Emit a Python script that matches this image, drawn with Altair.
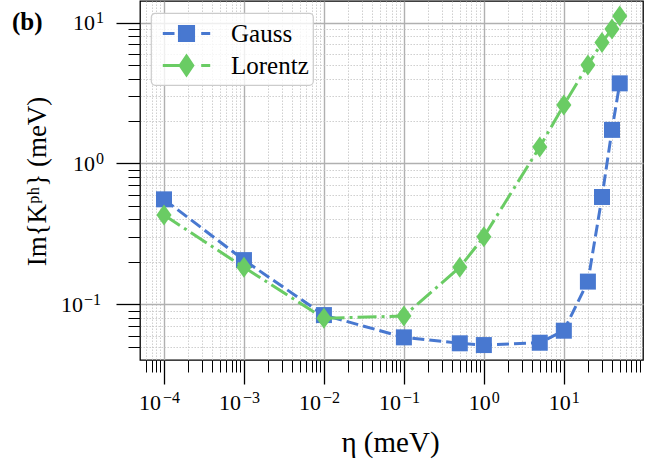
import altair as alt
import pandas as pd

# Broadening width eta (meV) and the resulting Im{K^ph} (meV) per broadening kind
eta = [1e-4, 1e-3, 1e-2, 1e-1, 0.5, 1, 5, 10, 20, 30, 40, 50]
gauss = [0.556, 0.206, 0.0839, 0.0583, 0.0529, 0.0514, 0.0534, 0.065, 0.145, 0.578, 1.73, 3.70]
lorentz = [0.430, 0.183, 0.0796, 0.0826, 0.183, 0.302, 1.31, 2.6, 5.0, 7.2, 9.0, 11.1]

series = ["Gauss", "Lorentz"]
colors = ["#4878d0", "#6acc64"]
panel_label = "(b)"

# decade tick labels, written as 10 with a raised exponent
x_major = [1e-4, 1e-3, 1e-2, 1e-1, 1, 10]
x_exponents = ["\u22124", "\u22123", "\u22122", "\u22121", "0", "1"]
y_major = [0.1, 1, 10]
y_exponents = ["\u22121", "0", "1"]

# log-axis tick positions: every 1..9 x 10^k inside the visible range
x_ticks = [m * 10.0 ** k for k in range(-5, 2) for m in range(1, 10) if 5.5e-5 < m * 10.0 ** k < 95]
y_ticks = [m * 10.0 ** k for k in range(-2, 2) for m in range(1, 10) if 0.045 < m * 10.0 ** k < 14]

FONT = "Liberation Serif"
BASE_SIZE = 22
EXP_SIZE = 16

df = pd.DataFrame({
    "eta": eta * 2,
    "value": gauss + lorentz,
    "series": [series[0]] * len(eta) + [series[1]] * len(eta),
})

MAJOR = "abs(log(datum.value)/LN10 - round(log(datum.value)/LN10)) < 1e-6"


def log_axis(title, values, **kw):
    return alt.Axis(
        title=title,
        values=values,
        labels=False,
        grid=True,
        gridColor=alt.condition(MAJOR, alt.value("#b0b0b0"), alt.value("#c4c4c4")),
        gridDash=alt.condition(MAJOR, alt.value([]), alt.value([1.4, 1.6])),
        gridWidth=alt.condition(MAJOR, alt.value(1.4), alt.value(0.9)),
        tickSize=alt.condition(MAJOR, alt.value(24), alt.value(12)),
        tickWidth=alt.condition(MAJOR, alt.value(1.3), alt.value(1.0)),
        tickColor="black",
        domain=False,
        titleFont=FONT,
        titleFontWeight="normal",
        titleColor="black",
        titleBaseline="middle",
        titleAlign="center",
        **kw,
    )


x_scale = alt.Scale(type="log", domain=[10 ** -4.3, 10 ** 1.99], nice=False, zero=False)
y_scale = alt.Scale(type="log", domain=[10 ** -1.395, 10 ** 1.1526], nice=False, zero=False)

x_enc = alt.X("eta:Q", scale=x_scale,
              axis=log_axis("\u03b7 (meV)", x_ticks, titleX=250, titleY=82, titleFontSize=29))
y_enc = alt.Y("value:Q", scale=y_scale,
              axis=log_axis("Im{K\u1d56\u02b0} (meV)", y_ticks, titleX=-103, titleY=180,
                            titleAngle=-90, titleFontSize=27))

base = alt.Chart(df)

# one line + marker pair per broadening kind, Gauss first so Lorentz sits on top
styles = {
    "Gauss": dict(dash=[12, 5], shape="square", size=256),
    "Lorentz": dict(dash=[19, 5, 3, 5], shape="M0,-1L0.72,0L0,1L-0.72,0Z", size=441),
}
layers = []
for name, color in zip(series, colors):
    st = styles[name]
    sub = base.transform_filter(alt.datum.series == name)
    layers.append(
        sub.mark_line(color=color, strokeWidth=3, strokeDash=st["dash"]).encode(x=x_enc, y=y_enc)
    )
    layers.append(
        sub.mark_point(shape=st["shape"], size=st["size"], filled=True, color=color,
                       opacity=1, strokeWidth=0).encode(x=x_enc, y=y_enc)
    )

# legend entries: dash + marker + dash glyphs
legend_shapes = [
    "M-1.58,0H-0.8M0.98,0H1.58M-0.47,-0.47H0.47V0.47H-0.47Z",
    "M-1.58,0H-0.35M0.98,0H1.58M0,-0.62L0.42,0L0,0.62L-0.42,0Z",
]
legend = alt.Legend(
    title=None,
    orient="none",
    legendX=11,
    legendY=12,
    symbolSize=900,
    symbolStrokeWidth=3,
    symbolOffset=15,
    symbolOpacity=1,
    labelFont=FONT,
    labelFontSize=25,
    labelColor="black",
    labelOffset=28,
    padding=4,
    rowPadding=2,
    fillColor="rgba(255,255,255,0.8)",
    strokeColor="#cccccc",
    cornerRadius=4,
)
legend_layer = base.transform_filter("false").mark_point(filled=True, opacity=1, strokeWidth=3).encode(
    x=x_enc,
    y=y_enc,
    shape=alt.Shape("series:N", scale=alt.Scale(domain=series, range=legend_shapes), legend=legend),
    fill=alt.Fill("series:N", scale=alt.Scale(domain=series, range=colors), legend=legend),
    stroke=alt.Stroke("series:N", scale=alt.Scale(domain=series, range=colors), legend=legend),
)

# tick labels: "10" plus a smaller raised exponent
xl = pd.DataFrame({"eta": x_major, "exp": x_exponents, "neg": [e.startswith("\u2212") for e in x_exponents]})
yl = pd.DataFrame({"value": y_major, "exp": y_exponents, "neg": [e.startswith("\u2212") for e in y_exponents]})
tick_layers = []
for neg, (x_base_dx, x_exp_dx), (y_base_x, y_exp_x) in [
    (True, (-3, -1), (-57, -56)),
    (False, (7, 8), (-45, -44)),
]:
    cond = "datum.neg" if neg else "!datum.neg"
    xs = alt.Chart(xl).transform_filter(cond)
    ys = alt.Chart(yl).transform_filter(cond)
    txt = dict(font=FONT, color="black", baseline="alphabetic")
    tick_layers += [
        xs.mark_text(align="right", dx=x_base_dx, fontSize=BASE_SIZE, **txt).encode(
            x=alt.X("eta:Q", scale=x_scale), y=alt.value(409), text=alt.value("10")),
        xs.mark_text(align="left", dx=x_exp_dx, fontSize=EXP_SIZE, **txt).encode(
            x=alt.X("eta:Q", scale=x_scale), y=alt.value(402), text="exp:N"),
        ys.mark_text(align="right", dy=7.5, fontSize=BASE_SIZE, **txt).encode(
            y=alt.Y("value:Q", scale=y_scale), x=alt.value(y_base_x), text=alt.value("10")),
        ys.mark_text(align="left", dy=0.5, fontSize=EXP_SIZE, **txt).encode(
            y=alt.Y("value:Q", scale=y_scale), x=alt.value(y_exp_x), text="exp:N"),
    ]

label_layer = alt.Chart(pd.DataFrame({"label": [panel_label]})).mark_text(
    font=FONT, fontSize=25, fontWeight="bold", align="left", baseline="middle", color="black"
).encode(x=alt.value(-128), y=alt.value(21), text="label:N")

chart = (
    alt.layer(*layers, legend_layer, *tick_layers, label_layer)
    .properties(
        width=503,
        height=359,
        autosize=alt.AutoSizeParams(type="none"),
        padding={"left": 140, "top": 1, "right": 24, "bottom": 99},
    )
    .configure_view(stroke="black", strokeWidth=1.3)
    .configure_legend(strokeWidth=1.2)
)

chart.save("out.html", embed_options={"renderer": "svg", "actions": False})
